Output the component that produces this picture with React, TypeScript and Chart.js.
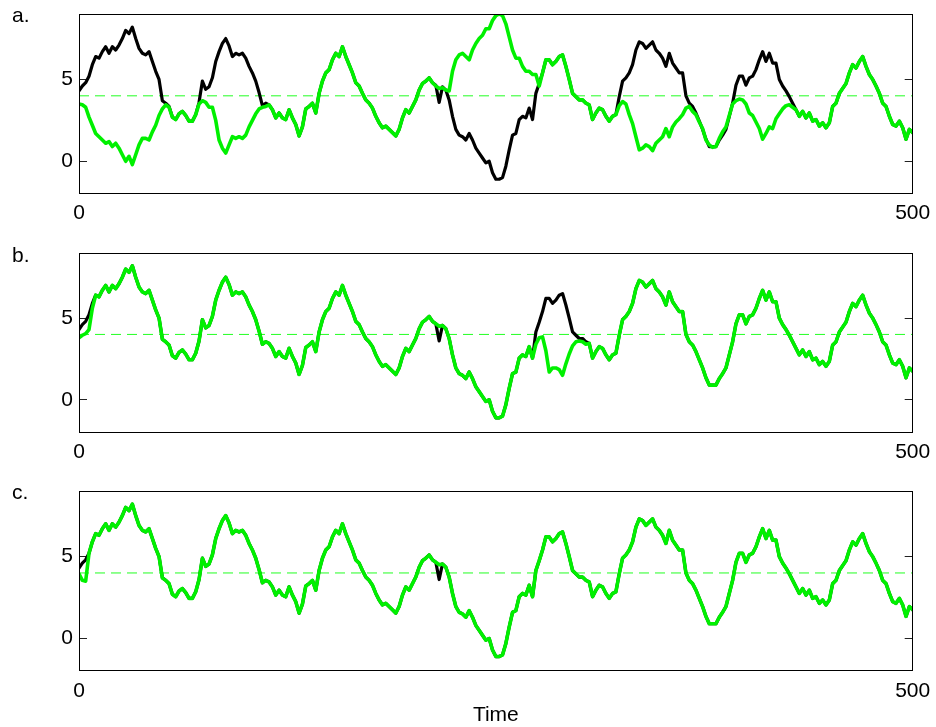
import React, { useEffect, useRef } from "react";
import { Chart, registerables } from "chart.js";

Chart.register(...registerables);

// sampling step of the series (time units)
const TIME_STEP = 2;

// reference signal (black line), t = 0, 2, ..., 500
const BLACK: number[] = [
  4.3, 4.6, 4.8, 5.2, 5.9, 6.4, 6.3, 6.7, 7.0, 6.6,
  7.0, 6.8, 7.1, 7.5, 8.0, 7.8, 8.2, 7.5, 6.9, 6.6,
  6.5, 6.7, 6.1, 5.5, 5.0, 3.7, 3.55, 3.35, 2.7, 2.55,
  2.9, 3.05, 2.8, 2.45, 2.45, 2.85, 3.6, 4.9, 4.4, 4.55,
  5.1, 6.1, 6.7, 7.2, 7.5, 7.05, 6.4, 6.6, 6.5, 6.6,
  6.3, 5.8, 5.4, 4.9, 4.2, 3.4, 3.55, 3.45, 3.15, 2.65,
  2.95, 2.65, 2.55, 3.15, 2.65, 2.25, 1.55, 2.1, 3.2, 3.35,
  3.55, 2.95, 4.15, 4.9, 5.4, 5.6, 6.2, 6.6, 6.4, 7.0,
  6.4, 5.9, 5.4, 4.8, 4.6, 4.15, 3.75, 3.55, 3.25, 2.75,
  2.35, 2.05, 2.15, 1.95, 1.75, 1.55, 1.95, 2.65, 3.15, 2.95,
  3.35, 3.75, 4.35, 4.75, 4.9, 5.1, 4.8, 4.65, 3.6, 4.55,
  4.35, 3.75, 2.75, 1.95, 1.6, 1.5, 1.3, 1.7, 1.3, 0.8,
  0.5, 0.2, -0.1, 0.0, -0.7, -1.1, -1.1, -1.0, -0.3, 0.7,
  1.6, 1.7, 2.55, 2.75, 2.65, 3.25, 2.55, 4.15, 4.75, 5.4,
  6.2, 6.2, 5.9, 6.1, 6.4, 6.5, 5.8, 5.0, 4.15, 3.95,
  3.75, 3.75, 3.55, 3.45, 2.55, 2.95, 3.25, 3.15, 2.75, 2.45,
  2.75, 2.85, 3.95, 4.9, 5.1, 5.4, 5.9, 6.8, 7.3, 7.2,
  6.9, 7.1, 7.3, 6.8, 6.6, 6.3, 5.8, 6.6, 6.0, 5.7,
  5.4, 5.4, 4.0, 3.55, 3.35, 2.95, 2.45, 1.95, 1.35, 0.9,
  0.9, 0.9, 1.3, 1.6, 1.95, 2.75, 3.55, 4.65, 5.2, 5.2,
  4.65, 5.1, 5.2, 5.6, 6.2, 6.7, 6.1, 6.6, 6.0, 6.0,
  5.0, 4.6, 4.3, 3.95, 3.55, 3.15, 2.75, 3.05, 2.65, 2.95,
  2.45, 2.55, 2.15, 2.35, 2.05, 2.35, 3.35, 3.55, 4.15, 4.45,
  4.75, 5.4, 5.9, 5.7, 6.1, 6.4, 5.8, 5.3, 5.0, 4.6,
  4.15, 3.55, 3.35, 2.75, 2.25, 2.15, 2.45, 2.05, 1.35, 1.95,
  1.75,
];

// panel a: green estimate
const GREEN_A: number[] = [
  3.5, 3.45, 3.3, 2.7, 2.2, 1.7, 1.5, 1.3, 1.1, 1.2,
  0.9, 1.1, 0.8, 0.4, 0.0, 0.3, -0.2, 0.4, 1.0, 1.4,
  1.4, 1.3, 1.8, 2.2, 2.8, 3.2, 3.45, 3.3, 2.7, 2.55,
  2.9, 3.05, 2.8, 2.45, 2.45, 2.85, 3.5, 3.7, 3.6, 3.3,
  3.3, 2.5, 1.3, 0.8, 0.5, 1.0, 1.5, 1.4, 1.5, 1.4,
  1.6, 2.1, 2.5, 2.9, 3.2, 3.3, 3.35, 3.45, 3.15, 2.65,
  2.95, 2.65, 2.55, 3.15, 2.65, 2.25, 1.55, 2.1, 3.2, 3.35,
  3.55, 2.95, 4.15, 4.9, 5.4, 5.6, 6.2, 6.6, 6.4, 7.0,
  6.4, 5.9, 5.4, 4.8, 4.6, 4.15, 3.75, 3.55, 3.25, 2.75,
  2.35, 2.05, 2.15, 1.95, 1.75, 1.55, 1.95, 2.65, 3.15, 2.95,
  3.35, 3.75, 4.35, 4.75, 4.9, 5.1, 4.8, 4.6, 4.45, 4.5,
  4.35, 4.3, 5.5, 6.2, 6.5, 6.6, 6.4, 6.2, 6.8, 7.2,
  7.5, 7.7, 8.1, 8.1, 8.6, 8.9, 9.0, 8.9, 8.4, 7.6,
  6.8, 6.3, 6.3, 5.8, 5.5, 5.5, 5.3, 5.3, 4.6, 5.4,
  6.2, 6.2, 5.9, 6.1, 6.4, 6.5, 5.8, 5.0, 4.15, 3.95,
  3.75, 3.75, 3.55, 3.45, 2.55, 2.95, 3.25, 3.15, 2.75, 2.45,
  2.75, 2.85, 3.4, 3.65, 3.5, 2.85, 2.3, 1.5, 0.7, 0.8,
  1.0, 0.9, 0.65, 1.1, 1.3, 1.5, 2.0, 1.5, 2.1, 2.4,
  2.6, 2.85, 3.25, 3.35, 3.05, 2.85, 2.4, 2.0, 1.3, 1.0,
  0.85, 0.9, 1.4, 1.8, 2.1, 2.8, 3.5, 3.7, 3.8, 3.75,
  3.5, 2.95, 2.8, 2.4, 2.0, 1.35, 1.7, 2.1, 2.0, 2.6,
  2.9, 3.2, 3.4, 3.45, 3.3, 3.15, 2.75, 3.05, 2.65, 2.95,
  2.45, 2.55, 2.15, 2.35, 2.05, 2.35, 3.35, 3.55, 4.15, 4.45,
  4.75, 5.4, 5.9, 5.7, 6.1, 6.4, 5.8, 5.3, 5.0, 4.6,
  4.15, 3.55, 3.35, 2.75, 2.25, 2.15, 2.45, 2.05, 1.35, 1.95,
  1.75,
];

// panel b: green estimate
const GREEN_B: number[] = [
  3.8, 3.95, 4.05, 4.3, 5.6, 6.4, 6.3, 6.7, 7.0, 6.6,
  7.0, 6.8, 7.1, 7.5, 8.0, 7.8, 8.2, 7.5, 6.9, 6.6,
  6.5, 6.7, 6.1, 5.5, 5.0, 3.7, 3.55, 3.35, 2.7, 2.55,
  2.9, 3.05, 2.8, 2.45, 2.45, 2.85, 3.6, 4.9, 4.4, 4.55,
  5.1, 6.1, 6.7, 7.2, 7.5, 7.05, 6.4, 6.6, 6.5, 6.6,
  6.3, 5.8, 5.4, 4.9, 4.2, 3.4, 3.55, 3.45, 3.15, 2.65,
  2.95, 2.65, 2.55, 3.15, 2.65, 2.25, 1.55, 2.1, 3.2, 3.35,
  3.55, 2.95, 4.15, 4.9, 5.4, 5.6, 6.2, 6.6, 6.4, 7.0,
  6.4, 5.9, 5.4, 4.8, 4.6, 4.15, 3.75, 3.55, 3.25, 2.75,
  2.35, 2.05, 2.15, 1.95, 1.75, 1.55, 1.95, 2.65, 3.15, 2.95,
  3.35, 3.75, 4.35, 4.75, 4.9, 5.1, 4.8, 4.65, 4.5, 4.55,
  4.35, 3.75, 2.75, 1.95, 1.6, 1.5, 1.3, 1.7, 1.3, 0.8,
  0.5, 0.2, -0.1, 0.0, -0.7, -1.1, -1.1, -1.0, -0.3, 0.7,
  1.6, 1.7, 2.55, 2.75, 2.65, 3.25, 2.55, 3.4, 3.8, 3.85,
  3.0, 1.7, 1.95, 1.95, 1.85, 1.5, 2.2, 2.8, 3.3, 3.55,
  3.6, 3.55, 3.4, 3.45, 2.55, 2.95, 3.25, 3.15, 2.75, 2.45,
  2.75, 2.85, 3.95, 4.9, 5.1, 5.4, 5.9, 6.8, 7.3, 7.2,
  6.9, 7.1, 7.3, 6.8, 6.6, 6.3, 5.8, 6.6, 6.0, 5.7,
  5.4, 5.4, 4.0, 3.55, 3.35, 2.95, 2.45, 1.95, 1.35, 0.9,
  0.9, 0.9, 1.3, 1.6, 1.95, 2.75, 3.55, 4.65, 5.2, 5.2,
  4.65, 5.1, 5.2, 5.6, 6.2, 6.7, 6.1, 6.6, 6.0, 6.0,
  5.0, 4.6, 4.3, 3.95, 3.55, 3.15, 2.75, 3.05, 2.65, 2.95,
  2.45, 2.55, 2.15, 2.35, 2.05, 2.35, 3.35, 3.55, 4.15, 4.45,
  4.75, 5.4, 5.9, 5.7, 6.1, 6.4, 5.8, 5.3, 5.0, 4.6,
  4.15, 3.55, 3.35, 2.75, 2.25, 2.15, 2.45, 2.05, 1.35, 1.95,
  1.75,
];

// panel c: green estimate
const GREEN_C: number[] = [
  3.95, 3.55, 3.5, 5.2, 5.9, 6.4, 6.3, 6.7, 7.0, 6.6,
  7.0, 6.8, 7.1, 7.5, 8.0, 7.8, 8.2, 7.5, 6.9, 6.6,
  6.5, 6.7, 6.1, 5.5, 5.0, 3.7, 3.55, 3.35, 2.7, 2.55,
  2.9, 3.05, 2.8, 2.45, 2.45, 2.85, 3.6, 4.9, 4.4, 4.55,
  5.1, 6.1, 6.7, 7.2, 7.5, 7.05, 6.4, 6.6, 6.5, 6.6,
  6.3, 5.8, 5.4, 4.9, 4.2, 3.4, 3.55, 3.45, 3.15, 2.65,
  2.95, 2.65, 2.55, 3.15, 2.65, 2.25, 1.55, 2.1, 3.2, 3.35,
  3.55, 2.95, 4.15, 4.9, 5.4, 5.6, 6.2, 6.6, 6.4, 7.0,
  6.4, 5.9, 5.4, 4.8, 4.6, 4.15, 3.75, 3.55, 3.25, 2.75,
  2.35, 2.05, 2.15, 1.95, 1.75, 1.55, 1.95, 2.65, 3.15, 2.95,
  3.35, 3.75, 4.35, 4.75, 4.9, 5.1, 4.8, 4.65, 4.5, 4.55,
  4.35, 3.75, 2.75, 1.95, 1.6, 1.5, 1.3, 1.7, 1.3, 0.8,
  0.5, 0.2, -0.1, 0.0, -0.7, -1.1, -1.1, -1.0, -0.3, 0.7,
  1.6, 1.7, 2.55, 2.75, 2.65, 3.25, 2.55, 4.15, 4.75, 5.4,
  6.2, 6.2, 5.9, 6.1, 6.4, 6.5, 5.8, 5.0, 4.15, 3.95,
  3.75, 3.75, 3.55, 3.45, 2.55, 2.95, 3.25, 3.15, 2.75, 2.45,
  2.75, 2.85, 3.95, 4.9, 5.1, 5.4, 5.9, 6.8, 7.3, 7.2,
  6.9, 7.1, 7.3, 6.8, 6.6, 6.3, 5.8, 6.6, 6.0, 5.7,
  5.4, 5.4, 4.0, 3.55, 3.35, 2.95, 2.45, 1.95, 1.35, 0.9,
  0.9, 0.9, 1.3, 1.6, 1.95, 2.75, 3.55, 4.65, 5.2, 5.2,
  4.65, 5.1, 5.2, 5.6, 6.2, 6.7, 6.1, 6.6, 6.0, 6.0,
  5.0, 4.6, 4.3, 3.95, 3.55, 3.15, 2.75, 3.05, 2.65, 2.95,
  2.45, 2.55, 2.15, 2.35, 2.05, 2.35, 3.35, 3.55, 4.15, 4.45,
  4.75, 5.4, 5.9, 5.7, 6.1, 6.4, 5.8, 5.3, 5.0, 4.6,
  4.15, 3.55, 3.35, 2.75, 2.25, 2.15, 2.45, 2.05, 1.35, 1.95,
  1.75,
];

const THRESHOLD = 4;
const X_RANGE = [0, 500];
const X_TICKS = [0, 500];
const Y_RANGE = [-2, 9];
const Y_TICKS = [0, 5];
const PANEL_LETTERS = ["a.", "b.", "c."];
const X_TITLE = "Time";

const FONT_FAMILY = '"Liberation Sans", Arial, Helvetica, sans-serif';
const FONT_SIZE = 21;
const GREEN = "#00f000";
const DASH_GREEN = "#22ff22";

const W = 936;
const PLOT_LEFT = 79;
const PLOT_RIGHT = 912.7;

function toPoints(vals: number[]) {
  return vals.map((v, i) => ({ x: i * TIME_STEP, y: v }));
}

type PanelProps = {
  letter: string;
  green: number[];
  top: number;
  height: number;
  plotTop: number;
  plotBottom: number;
  letterBaseline: number;
  showTitle: boolean;
};

function Panel(p: PanelProps) {
  const ref = useRef<HTMLCanvasElement | null>(null);

  useEffect(() => {
    if (!ref.current) return;
    const framePlugin = {
      id: "frameAndLetter",
      afterDraw(chart: any) {
        const { ctx, chartArea: a } = chart;
        ctx.save();
        ctx.strokeStyle = "#000";
        ctx.lineWidth = 1;
        const l = Math.round(a.left) + 0.5;
        const r = Math.round(a.right) - 0.5;
        const t = Math.round(a.top) + 0.5;
        const b = Math.round(a.bottom) - 0.5;
        ctx.strokeRect(l, t, r - l, b - t);
        ctx.fillStyle = "#000";
        ctx.font = `${FONT_SIZE}px ${FONT_FAMILY}`;
        ctx.textBaseline = "alphabetic";
        ctx.textAlign = "left";
        ctx.fillText(p.letter, 12, p.letterBaseline - p.top);
        ctx.restore();
      },
    };

    const tickFont = { family: FONT_FAMILY, size: FONT_SIZE };
    const xAxisHeight = p.top + p.height - p.plotBottom;
    const noPad = (s: any) => {
      s.paddingTop = 0;
      s.paddingBottom = 0;
      s.paddingLeft = 0;
      s.paddingRight = 0;
    };

    const chart = new Chart(ref.current, {
      type: "line",
      data: {
        datasets: [
          {
            data: toPoints(p.green),
            borderColor: GREEN,
            borderWidth: 3.6,
            pointRadius: 0,
            tension: 0,
            borderJoinStyle: "round",
            borderCapStyle: "round",
            order: 0,
          },
          {
            data: toPoints(BLACK),
            borderColor: "#000",
            borderWidth: 3.2,
            pointRadius: 0,
            tension: 0,
            borderJoinStyle: "round",
            borderCapStyle: "round",
            order: 1,
          },
          {
            data: [
              { x: X_RANGE[0], y: THRESHOLD },
              { x: X_RANGE[1], y: THRESHOLD },
            ],
            borderColor: DASH_GREEN,
            borderWidth: 1,
            borderDash: [10, 6],
            pointRadius: 0,
            order: 2,
          },
        ] as any,
      },
      options: {
        animation: false,
        responsive: false,
        maintainAspectRatio: false,
        events: [],
        layout: {
          padding: {
            top: p.plotTop - p.top,
            left: 0,
            right: W - PLOT_RIGHT,
            bottom: 0,
          },
        },
        plugins: {
          legend: { display: false },
          tooltip: { enabled: false },
        },
        scales: {
          x: {
            type: "linear",
            min: X_RANGE[0],
            max: X_RANGE[1],
            afterBuildTicks: (s: any) => {
              s.ticks = X_TICKS.map((v) => ({ value: v }));
            },
            afterFit: (s: any) => {
              s.height = xAxisHeight;
              noPad(s);
            },
            grid: { display: false, drawTicks: false },
            border: { display: false },
            ticks: {
              font: tickFont,
              color: "#000",
              padding: 7,
              maxRotation: 0,
              autoSkip: false,
            },
            title: {
              display: p.showTitle,
              text: X_TITLE,
              font: tickFont,
              color: "#000",
              padding: { top: 0, bottom: -1 },
            },
          },
          y: {
            type: "linear",
            position: "left",
            min: Y_RANGE[0],
            max: Y_RANGE[1],
            afterBuildTicks: (s: any) => {
              s.ticks = Y_TICKS.map((v) => ({ value: v }));
            },
            afterFit: (s: any) => {
              s.width = PLOT_LEFT;
              noPad(s);
            },
            grid: {
              drawOnChartArea: false,
              drawTicks: true,
              tickLength: -8,
              color: "#222",
              lineWidth: 1,
            },
            border: { display: false },
            ticks: { font: tickFont, color: "#000", padding: 14 },
          },
          y2: {
            type: "linear",
            position: "right",
            min: Y_RANGE[0],
            max: Y_RANGE[1],
            afterBuildTicks: (s: any) => {
              s.ticks = Y_TICKS.map((v) => ({ value: v }));
            },
            afterFit: (s: any) => {
              s.width = 0;
              noPad(s);
            },
            grid: {
              drawOnChartArea: false,
              drawTicks: true,
              tickLength: -8,
              color: "#222",
              lineWidth: 1,
            },
            border: { display: false },
            ticks: { display: false },
          },
        },
      } as any,
      plugins: [framePlugin],
    });
    return () => chart.destroy();
  }, []);

  return (
    <canvas
      ref={ref}
      width={W}
      height={p.height}
      style={{
        position: "absolute",
        left: 0,
        top: p.top,
        width: W,
        height: p.height,
        display: "block",
      }}
    />
  );
}

export default function App() {
  return (
    <div
      style={{
        position: "absolute",
        left: 0,
        top: 0,
        width: W,
        height: 727,
        background: "#fff",
        overflow: "hidden",
      }}
    >
      <Panel
        letter={PANEL_LETTERS[0]}
        green={GREEN_A}
        top={0}
        height={240}
        plotTop={14}
        plotBottom={194}
        letterBaseline={21.7}
        showTitle={false}
      />
      <Panel
        letter={PANEL_LETTERS[1]}
        green={GREEN_B}
        top={240}
        height={240}
        plotTop={252.7}
        plotBottom={432.5}
        letterBaseline={261.7}
        showTitle={false}
      />
      <Panel
        letter={PANEL_LETTERS[2]}
        green={GREEN_C}
        top={480}
        height={247}
        plotTop={491}
        plotBottom={671.3}
        letterBaseline={499.3}
        showTitle={true}
      />
    </div>
  );
}
